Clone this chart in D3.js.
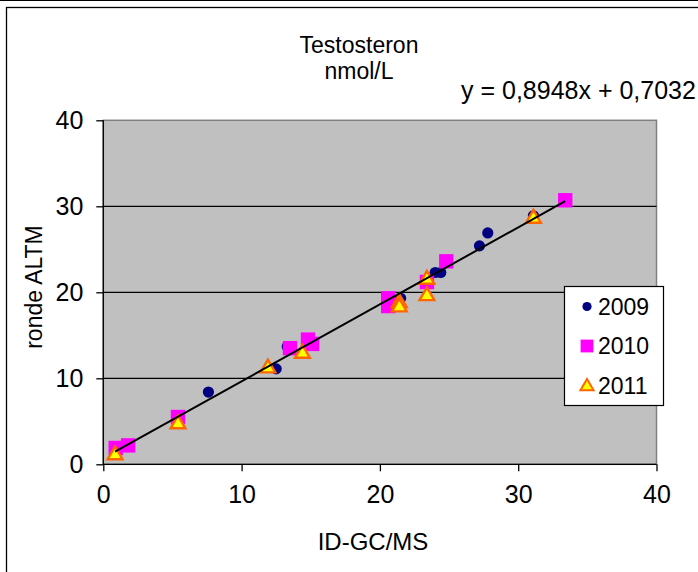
<!DOCTYPE html>
<html>
<head>
<meta charset="utf-8">
<script src="https://cdn.jsdelivr.net/npm/d3@7/dist/d3.min.js"></script>
<style>
  html, body { margin: 0; padding: 0; background: #fff; }
  svg { display: block; font-family: "Liberation Sans", Arial, sans-serif; }
</style>
</head>
<body>
<script>
// ---- data ----
const series2009 = [
  [7.6, 8.4], [12.5, 11.1], [13.3, 13.7], [21.5, 19.3],
  [24.0, 22.3], [24.4, 22.3], [27.2, 25.4], [27.8, 26.9], [31.1, 28.9]
];
const series2010 = [
  [0.9, 1.9], [1.8, 2.2], [5.4, 5.5], [13.5, 13.5],
  [14.8, 14.5], [15.1, 14.0], [20.6, 19.3], [20.6, 18.4],
  [23.4, 21.2], [24.8, 23.6], [33.4, 30.7]
];
const series2011 = [
  [0.85, 1.2], [5.4, 4.8], [11.9, 11.3], [14.4, 13.0],
  [21.4, 18.9], [21.4, 18.4], [23.4, 21.6], [23.4, 19.7], [31.1, 28.7]
];
const legendLabels = ["2009", "2010", "2011"];
const xTicks = [0, 10, 20, 30, 40];
const yTicks = [0, 10, 20, 30, 40];
const trendSlope = 0.8948;
const trendIntercept = 0.7032;
const titleLines = ["Testosteron", "nmol/L"];
const equationText = "y = 0,8948x + 0,7032";
const xTitle = "ID-GC/MS";
const yTitle = "ronde ALTM";

// ---- layout ----
const W = 698, H = 572;
const svg = d3.select("body").append("svg").attr("width", W).attr("height", H);

const x = d3.scaleLinear().domain([0, 40]).range([103.3, 656.5]);
const y = d3.scaleLinear().domain([0, 40]).range([464.3, 120.3]);

// outer frame
svg.append("line").attr("x1", 0).attr("x2", W).attr("y1", 0.5).attr("y2", 0.5)
  .attr("stroke", "#000").attr("stroke-width", 1);
svg.append("rect").attr("x", 6.5).attr("y", 7.5).attr("width", W + 10).attr("height", H + 10)
  .attr("fill", "none").attr("stroke", "#000").attr("stroke-width", 1.3);

// plot area
svg.append("rect")
  .attr("x", x(0)).attr("y", y(40))
  .attr("width", x(40) - x(0)).attr("height", y(0) - y(40))
  .attr("fill", "#C0C0C0").attr("stroke", "#808080").attr("stroke-width", 1.5);

// gridlines
svg.append("g").selectAll("line").data(yTicks.filter(d => d > 0 && d < 40)).join("line")
  .attr("x1", x(0)).attr("x2", x(40))
  .attr("y1", d => y(d)).attr("y2", d => y(d))
  .attr("stroke", "#000").attr("stroke-width", 1.2);

// axes
const xAxis = svg.append("g").attr("transform", `translate(0,${y(0)})`)
  .call(d3.axisBottom(x).tickValues(xTicks).tickSize(7).tickPadding(14).tickFormat(d3.format("d")));
const yAxis = svg.append("g").attr("transform", `translate(${x(0)},0)`)
  .call(d3.axisLeft(y).tickValues(yTicks).tickSize(7).tickPadding(13).tickFormat(d3.format("d")));
[xAxis, yAxis].forEach(a => {
  a.select(".domain").attr("stroke", "#000").attr("stroke-width", 1.3);
  a.selectAll(".tick line").attr("stroke", "#000").attr("stroke-width", 1.3);
  a.selectAll(".tick text").attr("fill", "#000").attr("font-size", 25)
    .attr("font-family", "'Liberation Sans', Arial, sans-serif");
});
xAxis.select(".domain").attr("d", `M${x(0)},0H${x(40)}`);
yAxis.select(".domain").attr("d", `M0,${y(0)}V${y(40)}`);

// markers
const triPath = d3.symbol().type(d3.symbolTriangle).size(95)();
svg.append("g").selectAll("circle").data(series2009).join("circle")
  .attr("cx", d => x(d[0])).attr("cy", d => y(d[1])).attr("r", 5.6)
  .attr("fill", "#000080");
svg.append("g").selectAll("rect").data(series2010).join("rect")
  .attr("x", d => x(d[0]) - 7.2).attr("y", d => y(d[1]) - 7.2)
  .attr("width", 14.4).attr("height", 14.4).attr("fill", "#FF00FF");
svg.append("g").selectAll("path").data(series2011).join("path")
  .attr("d", triPath)
  .attr("transform", d => `translate(${x(d[0])},${y(d[1]) + 1})`)
  .attr("fill", "#FFFF00").attr("stroke", "#FF6600").attr("stroke-width", 2.4)
  .attr("stroke-linejoin", "miter");

// trendline
const allX = [...series2009, ...series2010, ...series2011].map(d => d[0]);
const tx = d3.extent(allX);
svg.append("line")
  .attr("x1", x(tx[0])).attr("y1", y(trendSlope * tx[0] + trendIntercept))
  .attr("x2", x(tx[1])).attr("y2", y(trendSlope * tx[1] + trendIntercept))
  .attr("stroke", "#000").attr("stroke-width", 2);

// titles
svg.append("text").attr("x", 359).attr("y", 53).attr("text-anchor", "middle")
  .attr("font-size", 23).text(titleLines[0]);
svg.append("text").attr("x", 359).attr("y", 79).attr("text-anchor", "middle")
  .attr("font-size", 23).text(titleLines[1]);
svg.append("text").attr("x", 461).attr("y", 99).attr("font-size", 25).text(equationText);
svg.append("text").attr("x", 373).attr("y", 550).attr("text-anchor", "middle")
  .attr("font-size", 24).text(xTitle);
svg.append("text").attr("transform", "translate(42,287) rotate(-90)")
  .attr("text-anchor", "middle").attr("font-size", 23).text(yTitle);

// legend
const lg = svg.append("g");
lg.append("rect").attr("x", 564.5).attr("y", 286.5).attr("width", 99).attr("height", 119)
  .attr("fill", "#fff").attr("stroke", "#000").attr("stroke-width", 1.2);
const legY = [306.5, 346, 385.5];
lg.append("circle").attr("cx", 587).attr("cy", legY[0]).attr("r", 4.6).attr("fill", "#000080");
lg.append("rect").attr("x", 587 - 6.4).attr("y", legY[1] - 6.4).attr("width", 12.8).attr("height", 12.8)
  .attr("fill", "#FF00FF");
lg.append("path").attr("d", d3.symbol().type(d3.symbolTriangle).size(75)())
  .attr("transform", `translate(587,${legY[2] + 1})`)
  .attr("fill", "#FFFF00").attr("stroke", "#FF6600").attr("stroke-width", 2);
lg.selectAll("text").data(legendLabels).join("text")
  .attr("x", 598).attr("y", (d, i) => legY[i] + 8).attr("font-size", 23).text(d => d);
</script>
</body>
</html>
